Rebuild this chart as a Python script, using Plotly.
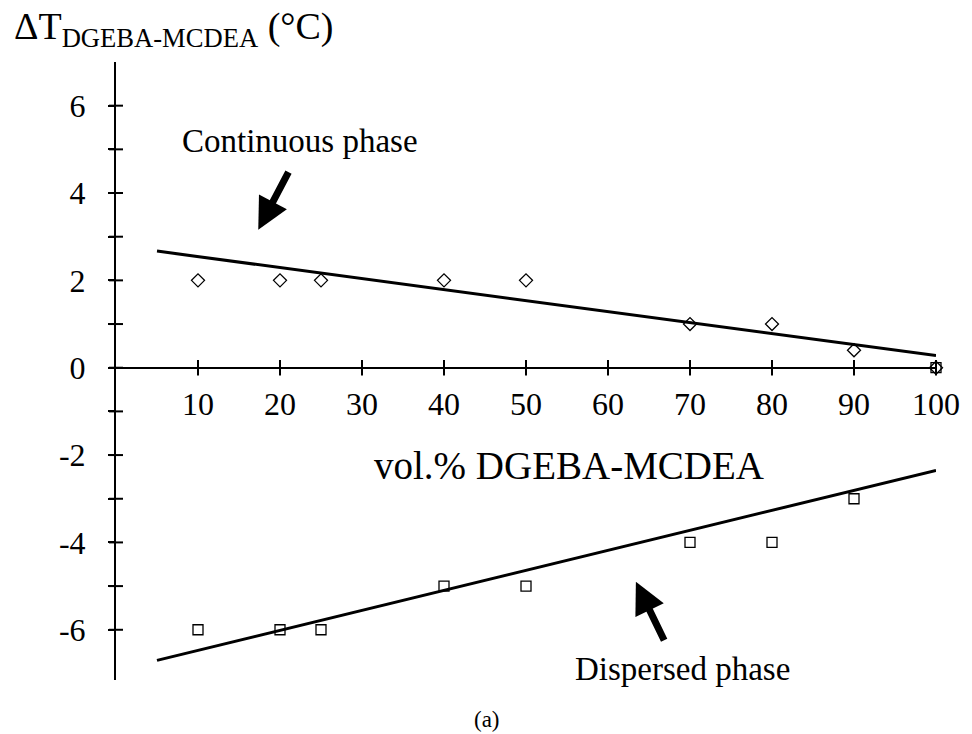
import plotly.graph_objects as go

# Measured shifts of the glass transition vs. blend composition
vol_pct = [10, 20, 25, 40, 50, 70, 80, 90, 100]
dT_continuous = [2, 2, 2, 2, 2, 1, 1, 0.4, 0]
dT_dispersed = [-6, -6, -6, -5, -5, -4, -4, -3, 0]

# Trend lines drawn through each phase
trend_x = [5, 100]
trend_continuous = [2.67, 0.28]
trend_dispersed = [-6.7, -2.35]

x_ticks = [10, 20, 30, 40, 50, 60, 70, 80, 90, 100]
y_ticks = [-6, -5, -4, -3, -2, -1, 0, 1, 2, 3, 4, 5, 6]
y_labels = ["-6", "", "-4", "", "-2", "", "0", "", "2", "", "4", "", "6"]

FONT = "Liberation Serif"
X_RANGE = [0, 100]
Y_RANGE = [-7.15, 7.0]
ZERO_POS = (0 - Y_RANGE[0]) / (Y_RANGE[1] - Y_RANGE[0])

fig = go.Figure()

fig.add_trace(go.Scatter(
    x=trend_x, y=trend_continuous, mode="lines",
    line=dict(color="black", width=3), cliponaxis=False, showlegend=False))
fig.add_trace(go.Scatter(
    x=trend_x, y=trend_dispersed, mode="lines",
    line=dict(color="black", width=3), cliponaxis=False, showlegend=False))
fig.add_trace(go.Scatter(
    x=vol_pct, y=dT_continuous, mode="markers",
    marker=dict(symbol="diamond-open", size=10, color="black",
                line=dict(width=1.3, color="black")),
    cliponaxis=False, showlegend=False))
fig.add_trace(go.Scatter(
    x=vol_pct, y=dT_dispersed, mode="markers",
    marker=dict(symbol="square-open", size=10, color="black",
                line=dict(width=1.3, color="black")),
    cliponaxis=False, showlegend=False))
# tick marks crossing both axis lines
fig.add_trace(go.Scatter(
    x=x_ticks, y=[0] * len(x_ticks), mode="markers",
    marker=dict(symbol="line-ns", size=11, color="black",
                line=dict(width=2, color="black")),
    cliponaxis=False, showlegend=False, hoverinfo="skip"))
fig.add_trace(go.Scatter(
    x=[0] * len(y_ticks), y=y_ticks, mode="markers",
    marker=dict(symbol="line-ew", size=10, color="black",
                line=dict(width=2, color="black")),
    cliponaxis=False, showlegend=False, hoverinfo="skip"))

fig.update_layout(
    width=972, height=734,
    margin=dict(l=116, r=33, t=62, b=54),
    paper_bgcolor="white", plot_bgcolor="white",
    showlegend=False,
    xaxis=dict(
        range=X_RANGE, anchor="free", position=ZERO_POS,
        showline=True, linecolor="black", linewidth=2,
        showgrid=False, zeroline=False,
        tickvals=x_ticks, ticks="outside", ticklen=5, tickwidth=2,
        tickcolor="black",
        tickfont=dict(family=FONT, size=32, color="black"),
        ticklabelstandoff=3,
    ),
    yaxis=dict(
        range=Y_RANGE, showline=True, linecolor="black", linewidth=2,
        showgrid=False, zeroline=False,
        tickvals=y_ticks, ticktext=y_labels, ticks="outside", ticklen=6,
        tickwidth=2, tickcolor="black",
        tickfont=dict(family=FONT, size=32, color="black"),
        ticklabelstandoff=16,
    ),
)

annotations = [
    dict(text="ΔT<sub>DGEBA-MCDEA</sub> (°C)", xref="paper", yref="paper",
         x=-0.127, y=1.054, xanchor="left", yanchor="middle", showarrow=False,
         font=dict(family=FONT, size=38, color="black")),
    dict(text="Continuous phase", xref="x", yref="y", x=22.4, y=5.19,
         showarrow=False, font=dict(family=FONT, size=33, color="black")),
    dict(text="vol.% DGEBA-MCDEA", xref="x", yref="y", x=55.3, y=-2.25,
         showarrow=False, font=dict(family=FONT, size=39, color="black")),
    dict(text="Dispersed phase", xref="x", yref="y", x=69.1, y=-6.9,
         showarrow=False, font=dict(family=FONT, size=33, color="black")),
    dict(text="(a)", xref="paper", yref="paper", x=0.453, y=-0.088,
         showarrow=False, font=dict(family=FONT, size=23, color="black")),
    # pointer arrows
    dict(text="", xref="x", yref="y", x=17.35, y=3.16, ax=31, ay=-59,
         showarrow=True, arrowhead=2, arrowsize=0.9, arrowwidth=7,
         arrowcolor="black"),
    dict(text="", xref="x", yref="y", x=63.4, y=-4.9, ax=29, ay=60,
         showarrow=True, arrowhead=2, arrowsize=0.9, arrowwidth=7,
         arrowcolor="black"),
]
fig.update_layout(annotations=annotations)

fig.write_html("out.html")
